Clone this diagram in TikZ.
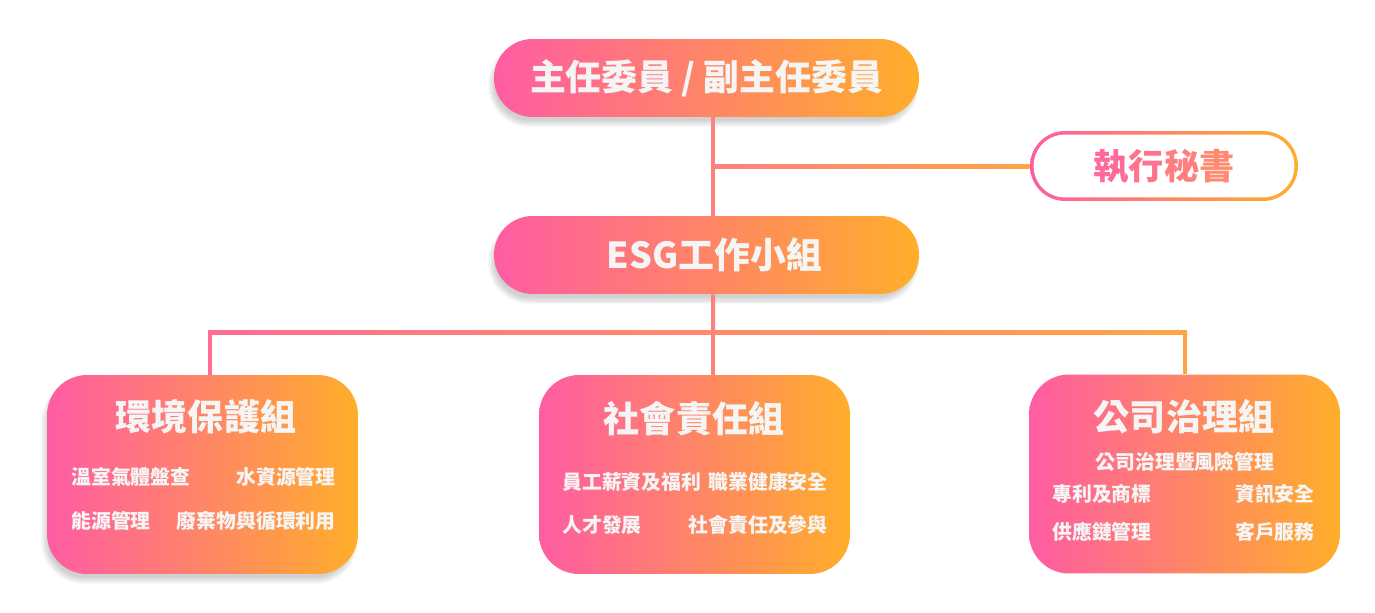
\documentclass[tikz,border=0pt]{standalone}
\usepackage{fontspec}
\setmainfont{Noto Sans CJK TC}
\usetikzlibrary{shadows.blur}
\newcommand{\sectitle}[1]{\textcolor{secA}{執}\textcolor{secB}{行}\textcolor{secC}{秘}\textcolor{secD}{書}}

\begin{document}
\begin{tikzpicture}[x=0.02cm,y=-0.02cm]
	\definecolor{esgpink}{HTML}{FF5CA3}
	\definecolor{esgorange}{HTML}{FFAE2A}
	\definecolor{esgtext}{HTML}{F5F5F5}
	\definecolor{lnpink}{HTML}{FF6E92}
	\definecolor{lnmid}{HTML}{FF8080}
	\definecolor{lnorange}{HTML}{FFA445}
	\definecolor{secA}{HTML}{FF6A98}
	\definecolor{secB}{HTML}{FF738E}
	\definecolor{secC}{HTML}{FF7E80}
	\definecolor{secD}{HTML}{FF8A72}
	\tikzset{
		softshadow/.style={blur shadow={shadow blur steps=10, shadow xshift=-0.06cm, shadow yshift=-0.14cm, shadow opacity=18}},
		pill/.style={left color=esgpink, right color=esgorange, rounded corners=0.77cm,
			minimum width=8.5cm, minimum height=1.56cm, inner sep=0, text=esgtext,
			font=\fontsize{20.4}{23}\selectfont\bfseries, softshadow},
		secbox/.style={left color=esgpink, right color=esgorange, rounded corners=0.7cm,
			minimum width=5.36cm, minimum height=1.4cm, inner sep=0},
		groupbox/.style={left color=esgpink, right color=esgorange, rounded corners=0.8cm,
			minimum width=6.22cm, minimum height=3.98cm, inner sep=0},
		grouptitle/.style={text=esgtext, inner sep=0, font=\fontsize{20.5}{23}\selectfont\bfseries},
		item/.style={text=esgtext, inner sep=0, font=\fontsize{11.3}{13}\selectfont\bfseries},
		link/.style={line width=0.08cm}
	}
	\useasboundingbox (0,0) rectangle (1375,612);

	% boxes
	\node[pill] (pres) at (706.5,78) {主任委員 / 副主任委員};
	\node[pill] (esg) at (706.5,255) {\hspace*{0.32cm}ESG工作小組};
	\node[secbox] (sec) at (1164,166) {};
	\fill[white, rounded corners=0.62cm] ([shift={(0.08cm,0.08cm)}]sec.south west) rectangle ([shift={(-0.08cm,-0.08cm)}]sec.north east);
	\node[inner sep=0, font=\fontsize{20}{23}\selectfont\bfseries] (sectxt) at (sec) {\sectitle{}};

	\node[groupbox, softshadow] (env) at (202.5,474.5) {};
	\node[groupbox] (soc) at (694.5,474.5) {};
	\node[groupbox] (gov) at (1184.5,474) {};

	% labels
	\node[grouptitle] (envt) at (206,417) {環境保護組};
	\node[item, anchor=west] (env1) at (71,477) {溫室氣體盤查};
	\node[item, anchor=east] (env2) at (336,477) {水資源管理};
	\node[item, anchor=west] (env3) at (71,521) {能源管理};
	\node[item, anchor=east] (env4) at (336,521) {廢棄物與循環利用};

	\node[grouptitle] (soct) at (694,419) {社會責任組};
	\node[item, anchor=west] (soc1) at (562,482) {員工薪資及福利};
	\node[item, anchor=east] (soc2) at (828,482) {職業健康安全};
	\node[item, anchor=west] (soc3) at (562,525) {人才發展};
	\node[item, anchor=east] (soc4) at (828,525) {社會責任及參與};

	\node[grouptitle] (govt) at (1184,417) {公司治理組};
	\node[item] (gov0) at (1185,462) {公司治理暨風險管理};
	\node[item, anchor=west] (gov1) at (1052,494) {專利及商標};
	\node[item, anchor=east] (gov2) at (1315,494) {資訊安全};
	\node[item, anchor=west] (gov3) at (1052,532) {供應鏈管理};
	\node[item, anchor=east] (gov4) at (1315,532) {客戶服務};

	% connectors
	\coordinate (jsec) at (713,166);
	\coordinate (jbus) at (713,332);
	\coordinate (jenv) at (210,332);
	\coordinate (jgov) at (1185,332);
	\draw[link, lnmid] ([xshift=0.13cm]pres.south) -- ([xshift=0.13cm]esg.north);
	\shade[left color=lnmid, right color=lnorange] ([yshift=0.04cm]jsec) rectangle ([yshift=-0.04cm]sec.west);
	\draw[link, lnmid] ([xshift=0.13cm]esg.south) -- (jbus);
	\shade[left color=lnpink, right color=lnorange] ([shift={(-0.04cm,0.04cm)}]jenv) rectangle ([shift={(0.04cm,-0.04cm)}]jgov);
	\draw[link, lnpink] (jenv) -- (jenv |- env.north);
	\draw[link, lnmid] (jbus) -- (jbus |- soc.north);
	\draw[link, lnorange] (jgov) -- (jgov |- gov.north);
\end{tikzpicture}
\end{document}
